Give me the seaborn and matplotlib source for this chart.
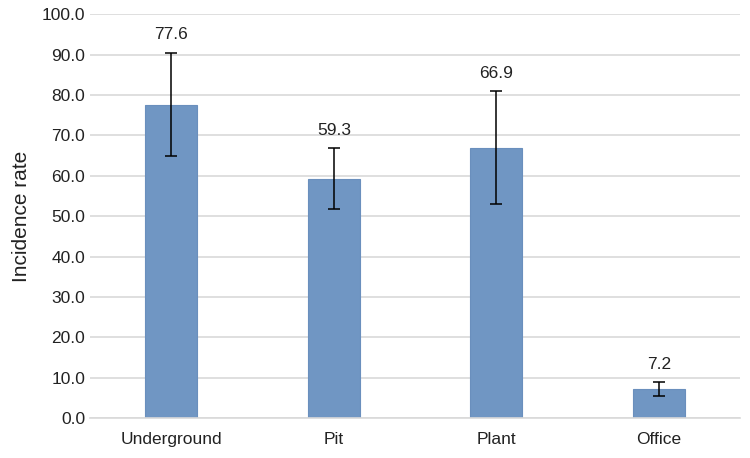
import numpy as np
import pandas as pd
import matplotlib
matplotlib.use("Agg")
import matplotlib.pyplot as plt
import seaborn as sns

# data
categories = ["Underground", "Pit", "Plant", "Office"]
rates = [77.6, 59.3, 66.9, 7.2]
err_upper = [90.5, 66.9, 81.0, 9.0]
err_lower = [64.9, 51.8, 52.9, 5.4]

df = pd.DataFrame({"site": categories, "rate": rates})

sns.set_style("white")
plt.rcParams["font.family"] = ["Liberation Sans", "DejaVu Sans"]

fig = plt.figure(figsize=(7.5, 4.58), dpi=100)
ax = fig.add_axes([0.12, 0.087, 0.867, 0.882])

sns.barplot(data=df, x="site", y="rate", color="#7096c3", width=0.32,
            edgecolor="#6a8fbd", linewidth=0.8, saturation=1, ax=ax, zorder=2)

# asymmetric error bars at bar centres
xs = [p.get_x() + p.get_width() / 2 for p in ax.patches]
lo = np.array(rates) - np.array(err_lower)
hi = np.array(err_upper) - np.array(rates)
ax.errorbar(xs, rates, yerr=[lo, hi], fmt="none", ecolor="black",
            elinewidth=1.1, capsize=4, capthick=1.1, zorder=3)

for x, top, v in zip(xs, err_upper, rates):
    ax.text(x, top + 2.5, f"{v:.1f}", ha="center", va="bottom", fontsize=12.5,
            color="#222222")

ax.set_xlim(-0.5, len(categories) - 0.5)
ax.set_ylim(0, 100)
ax.set_yticks(np.arange(0, 101, 10))
ax.set_yticklabels([f"{t:.1f}" for t in np.arange(0, 101, 10)])
ax.yaxis.grid(True, color="#d9d9d9", linewidth=1.2, zorder=0)
ax.set_axisbelow(True)
for s in ["top", "right", "left"]:
    ax.spines[s].set_visible(False)
ax.spines["bottom"].set_color("#d9d9d9")
ax.spines["bottom"].set_linewidth(1.2)
ax.tick_params(axis="both", length=0, labelsize=12.5, colors="#222222")
ax.tick_params(axis="x", pad=10)
ax.set_xlabel("")
ax.set_ylabel("Incidence rate", fontsize=15, color="#222222", labelpad=8)

fig.savefig("out.png", dpi=100)
